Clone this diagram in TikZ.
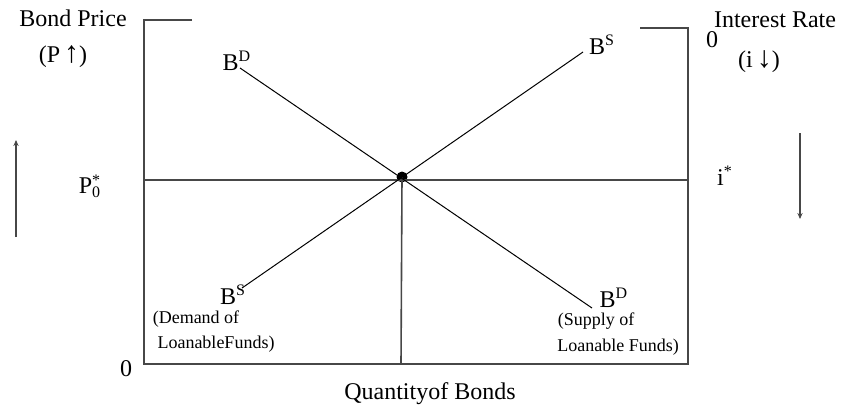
\documentclass[tikz,border=0pt]{standalone}
\usepackage{fontspec}
\setmainfont{Liberation Serif}
\usetikzlibrary{arrows.meta}

\begin{document}
\begin{tikzpicture}[
  x=0.5pt, y=-0.5pt,
  >={Stealth[length=3pt, width=2.6pt]},
  axis/.style={line width=0.8pt, draw=black!72},
  guide/.style={line width=0.6pt, draw=black!72},
  curve/.style={line width=0.5pt},
  move/.style={->, line width=0.7pt, draw=black!72},
  lbl/.style={font=\fontsize{12}{14}\selectfont, inner sep=0pt},
  note/.style={font=\fontsize{9}{10}\selectfont, inner sep=0pt},
  dot/.style={circle, fill, inner sep=0pt, minimum size=5.5pt},
]
  \useasboundingbox (0,0) rectangle (845,408);

  % frame of the graph
  \coordinate (tlend) at (192,20);
  \coordinate (tl)    at (144,20);
  \coordinate (o)     at (144,364);
  \coordinate (br)    at (688,364);
  \coordinate (tr)    at (688,28);
  \coordinate (trend) at (640,28);
  \draw[axis] (tlend) -- (tl) -- (o) -- (br) -- (tr) -- (trend);

  % equilibrium
  \node[dot] (eq) at (402,177) {};
  \coordinate (pl) at (144,180);
  \coordinate (pr) at (688,180);
  \coordinate (qb) at (401,364);
  \draw[guide] (pl) -- (pr);
  \draw[axis] (eq.center) -- (qb);

  % demand and supply of bonds
  \coordinate (bdtop) at (240,68);
  \coordinate (bdbot) at (592,308);
  \coordinate (bstop) at (583,52);
  \coordinate (bsbot) at (242,288);
  \draw[curve] (bdtop) -- (bdbot);
  \draw[curve] (bsbot) -- (bstop);

  \node[lbl] (bdt) at (237,61)  {B\textsuperscript{D}};
  \node[lbl] (bst) at (602,45)  {B\textsuperscript{S}};
  \node[lbl] (bsb) at (233,295) {B\textsuperscript{S}};
  \node[lbl] (bdb) at (614,298) {B\textsuperscript{D}};
  \node[note] (dem1) at (196,319) {(Demand of};
  \node[note] (dem2) at (216,344) {LoanableFunds)};
  \node[note] (sup1) at (596,321) {(Supply of};
  \node[note] (sup2) at (618,347) {Loanable Funds)};

  % axis titles
  \node[lbl] (bp)   at (73,18)   {Bond Price};
  \node[lbl] (pup)  at (63,57)   {(P\,{\fontsize{15}{15}\selectfont ↑})};
  \node[lbl] (ir)   at (775,20)  {Interest Rate};
  \node[lbl] (idn)  at (759,62)  {(i\,{\fontsize{15}{15}\selectfont ↓})};
  \node[lbl] (zr)   at (712,40)  {0};
  \node[lbl] (zl)   at (126,369) {0};
  \node[lbl] (qty)  at (430,394) {Quantityof Bonds};
  \node[lbl] (pst)  at (90,186)  {P\rlap{\textsuperscript{*}}\textsubscript{0}};
  \node[lbl] (ist)  at (725,176) {i\textsuperscript{*}};

  % direction arrows
  \coordinate (upfrom) at (16,237);
  \coordinate (upto)   at (16,140);
  \coordinate (dnfrom) at (800,133);
  \coordinate (dnto)   at (800,219);
  \draw[move] (upfrom) -- (upto);
  \draw[move] (dnfrom) -- (dnto);
\end{tikzpicture}
\end{document}
